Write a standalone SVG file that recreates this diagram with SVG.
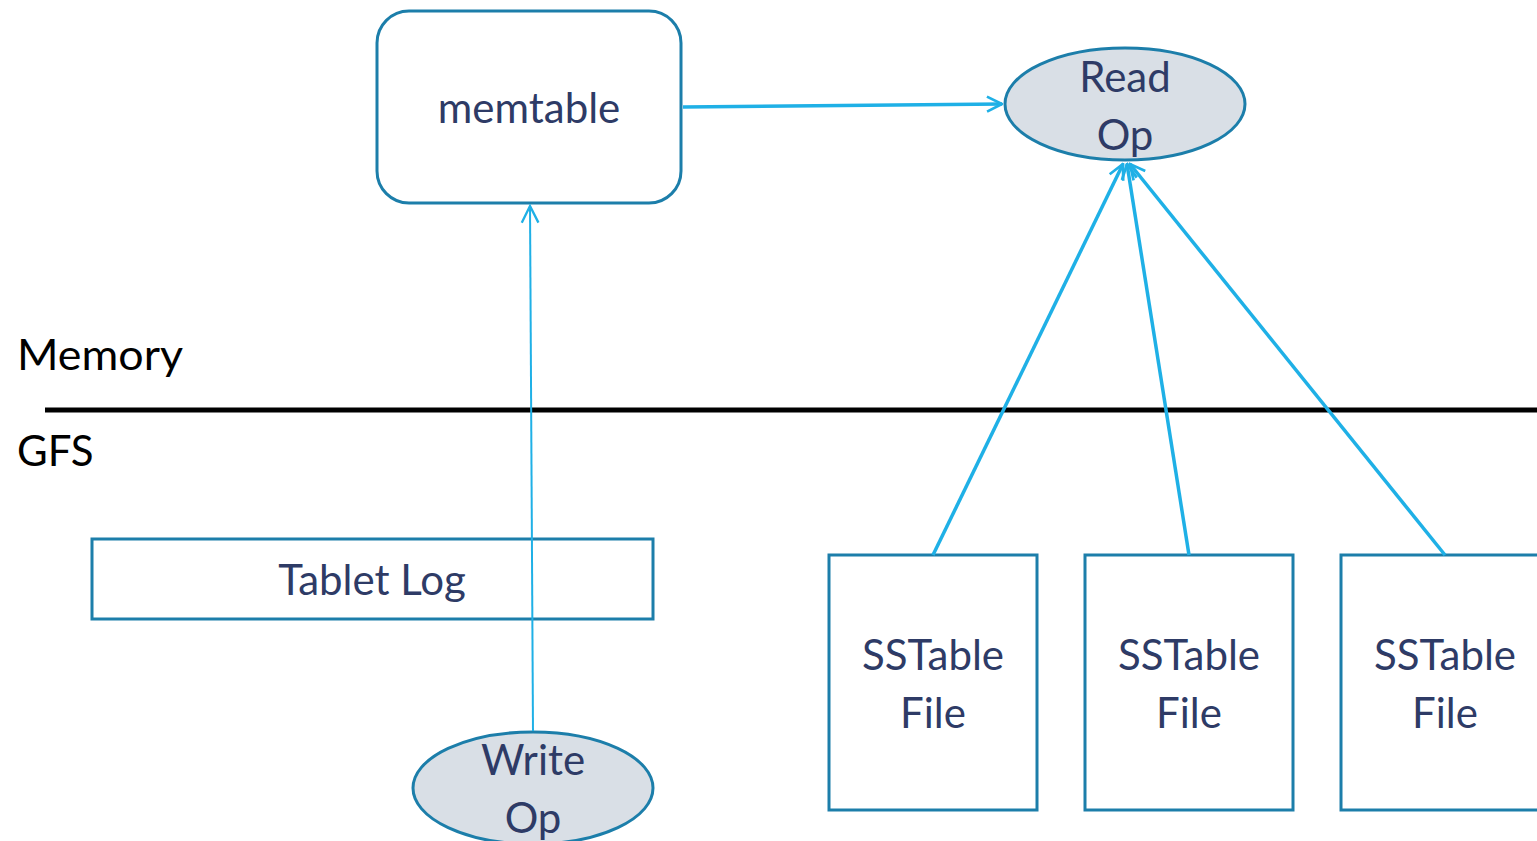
<svg xmlns="http://www.w3.org/2000/svg" width="1537" height="841" viewBox="0 0 1537 841">
  <style>
    .box { fill: #ffffff; stroke: #1c7eaa; stroke-width: 3; }
    .oval { fill: #d9dfe6; stroke: #1c7eaa; stroke-width: 3; }
    .lbl { font-family: Lato, "Open Sans", sans-serif; font-size: 42px; fill: #2e3b66; text-anchor: middle; }
    .side { font-family: Lato, "Open Sans", sans-serif; font-size: 42px; fill: #000000; }
    .conn { stroke: #1fb0e6; fill: none; }
  </style>
  <defs>
    <marker id="open" viewBox="0 0 12 12" refX="11" refY="6" markerWidth="18" markerHeight="18" markerUnits="userSpaceOnUse" orient="auto">
      <path d="M1,1 L11,6 L1,11" fill="none" stroke="#1fb0e6" stroke-width="1.8"/>
    </marker>
    <marker id="openS" viewBox="0 0 12 12" refX="11" refY="6" markerWidth="20" markerHeight="20" markerUnits="userSpaceOnUse" orient="auto">
      <path d="M1,1 L11,6 L1,11" fill="none" stroke="#1fb0e6" stroke-width="1.4"/>
    </marker>
  </defs>

  <!-- memory / storage divider -->
  <g id="divider">
    <line x1="45" y1="410" x2="1537" y2="410" stroke="#000" stroke-width="5"/>
    <text class="side" x="17" y="370" textLength="166" lengthAdjust="spacingAndGlyphs">Memory</text>
    <text class="side" x="17" y="466">GFS</text>
  </g>

  <g id="memtable">
    <rect class="box" x="377" y="11" width="304" height="192" rx="32"/>
    <text class="lbl" x="529" y="123">memtable</text>
  </g>

  <g id="read-op">
    <ellipse class="oval" cx="1125" cy="104" rx="120" ry="56"/>
    <text class="lbl" x="1125" y="92">Read</text>
    <text class="lbl" x="1125" y="150">Op</text>
  </g>

  <g id="tablet-log">
    <rect class="box" x="92" y="539" width="561" height="80"/>
    <text class="lbl" x="372" y="595">Tablet Log</text>
  </g>

  <g id="write-op">
    <ellipse class="oval" cx="533" cy="788" rx="120" ry="56"/>
    <text class="lbl" x="533" y="775">Write</text>
    <text class="lbl" x="533" y="833">Op</text>
  </g>

  <g id="sstable-1">
    <rect class="box" x="829" y="555" width="208" height="255"/>
    <text class="lbl" x="933" y="670">SSTable</text>
    <text class="lbl" x="933" y="728">File</text>
  </g>

  <g id="sstable-2">
    <rect class="box" x="1085" y="555" width="208" height="255"/>
    <text class="lbl" x="1189" y="670">SSTable</text>
    <text class="lbl" x="1189" y="728">File</text>
  </g>

  <g id="sstable-3">
    <rect class="box" x="1341" y="555" width="208" height="255"/>
    <text class="lbl" x="1445" y="670">SSTable</text>
    <text class="lbl" x="1445" y="728">File</text>
  </g>

  <!-- connectors last so the write path runs over the log box -->
  <g id="connectors">
    <line class="conn" x1="683" y1="107" x2="1002" y2="104" stroke-width="3.5" marker-end="url(#open)"/>
    <line class="conn" x1="533" y1="731" x2="530" y2="206" stroke-width="2" marker-end="url(#openS)"/>
    <line class="conn" x1="933" y1="555" x2="1123" y2="164" stroke-width="3.5" marker-end="url(#open)"/>
    <line class="conn" x1="1189" y1="555" x2="1127" y2="164" stroke-width="3.5" marker-end="url(#open)"/>
    <line class="conn" x1="1445" y1="555" x2="1130" y2="164" stroke-width="3.5" marker-end="url(#open)"/>
  </g>
</svg>
